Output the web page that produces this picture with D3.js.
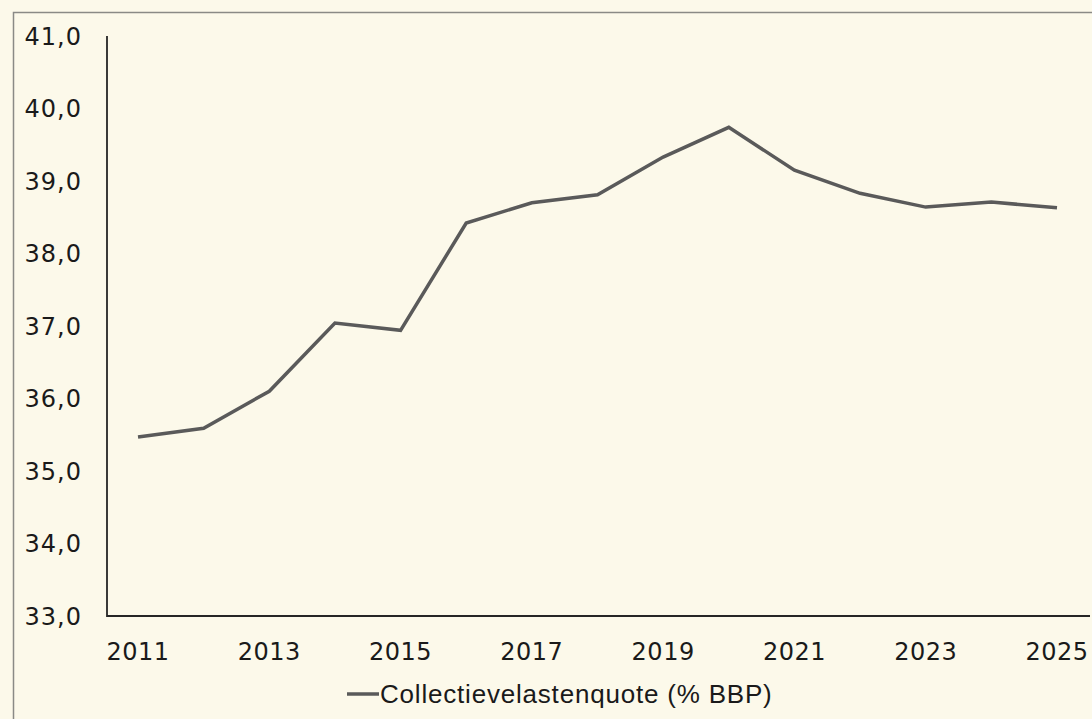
<!DOCTYPE html>
<html>
<head>
<meta charset="utf-8">
<script src="https://cdn.jsdelivr.net/npm/d3@7"></script>
<style>
  html, body { margin: 0; padding: 0; background: #fcf9ea; }
  svg { display: block; }
</style>
</head>
<body>
<svg id="chart" width="1092" height="719"></svg>
<script>
// data
const years = [2011, 2012, 2013, 2014, 2015, 2016, 2017, 2018, 2019, 2020, 2021, 2022, 2023, 2024, 2025];
const quote = [35.47, 35.59, 36.1, 37.04, 36.94, 38.42, 38.7, 38.81, 39.33, 39.74, 39.15, 38.83, 38.64, 38.71, 38.63];
const yTicks = [33, 34, 35, 36, 37, 38, 39, 40, 41];
const xTicks = [2011, 2013, 2015, 2017, 2019, 2021, 2023, 2025];
const seriesName = "Collectievelastenquote (% BBP)";

const width = 1092, height = 719;
const svg = d3.select("#chart");

// outer frame of the figure
svg.append("path")
    .attr("d", `M13.5,${height} V12.5 H${width}`)
    .attr("fill", "none")
    .attr("stroke", "#8a8a86")
    .attr("stroke-width", 1.5);

const plotLeft = 107, plotRight = 1090, plotTop = 36, plotBottom = 616;

const x = d3.scaleLinear()
    .domain([2011, 2025])
    .range([138, 1057]);

const y = d3.scaleLinear()
    .domain([33, 41])
    .range([plotBottom, plotTop]);

const fmt = (d) => d3.format(".1f")(d).replace(".", ",");

// y labels
svg.append("g")
    .selectAll("text")
    .data(yTicks)
    .join("text")
    .attr("x", 82)
    .attr("y", (d) => y(d))
    .attr("dy", "0.36em")
    .attr("text-anchor", "end")
    .attr("font-family", "DejaVu Sans, sans-serif")
    .attr("font-size", 24)
    .attr("letter-spacing", 1)
    .attr("fill", "#1a1a1a")
    .text(fmt);

// x labels
svg.append("g")
    .selectAll("text")
    .data(xTicks)
    .join("text")
    .attr("x", (d) => x(d))
    .attr("y", 651)
    .attr("dy", "0.36em")
    .attr("text-anchor", "middle")
    .attr("font-family", "DejaVu Sans, sans-serif")
    .attr("font-size", 24)
    .attr("letter-spacing", 0.5)
    .attr("fill", "#1a1a1a")
    .text((d) => d);

// axis lines
svg.append("path")
    .attr("d", `M${plotLeft},${plotTop} V${plotBottom} H${plotRight}`)
    .attr("fill", "none")
    .attr("stroke", "#262626")
    .attr("stroke-width", 1.8);

// series line
const line = d3.line()
    .x((d, i) => x(years[i]))
    .y((d) => y(d));

svg.append("path")
    .datum(quote)
    .attr("d", line)
    .attr("fill", "none")
    .attr("stroke", "#5a5a5a")
    .attr("stroke-width", 3.5)
    .attr("stroke-linejoin", "miter");

// legend
const legend = svg.append("g").attr("transform", "translate(347,694)");
legend.append("line")
    .attr("x1", 0).attr("x2", 32)
    .attr("stroke", "#5a5a5a")
    .attr("stroke-width", 3.5);
legend.append("text")
    .attr("x", 33)
    .attr("dy", "0.36em")
    .attr("font-family", "Liberation Sans, Arial, sans-serif")
    .attr("font-size", 26)
    .attr("letter-spacing", 0.8)
    .attr("fill", "#1a1a1a")
    .text(seriesName);
</script>
</body>
</html>
